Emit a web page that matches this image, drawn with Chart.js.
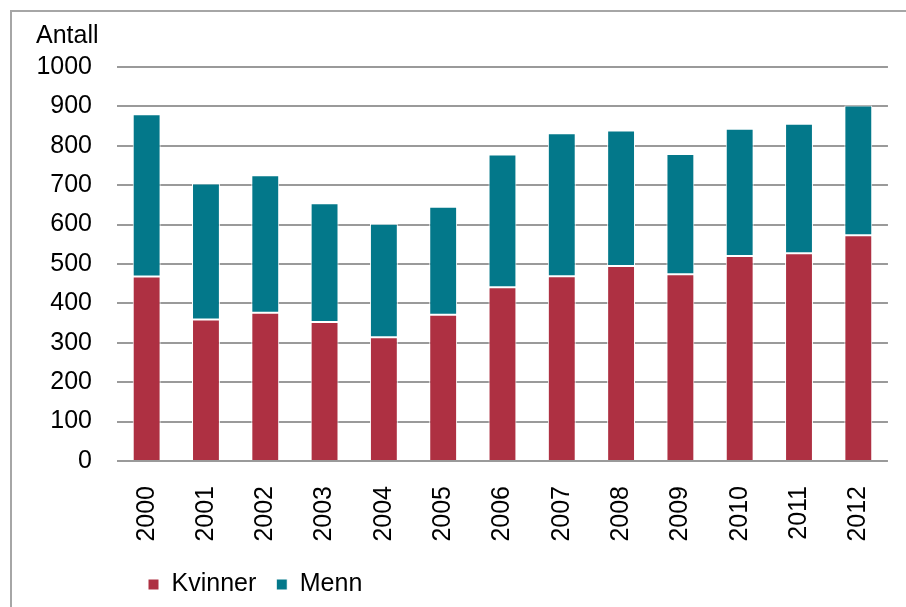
<!DOCTYPE html>
<html>
<head>
<meta charset="utf-8">
<script src="https://cdn.jsdelivr.net/npm/chart.js@4/dist/chart.umd.min.js"></script>
<style>
  html, body { margin: 0; padding: 0; background: #ffffff; }
  #wrap { position: relative; width: 906px; height: 607px; overflow: hidden; }
  #frame { position: absolute; left: 10px; top: 10px; width: 1000px; height: 1000px;
           border-left: 2px solid #a6a6a6; border-top: 2px solid #a6a6a6; box-sizing: border-box; }
  #c { position: absolute; left: 0; top: 0; }
</style>
</head>
<body>
<div id="wrap">
  <div id="frame"></div>
  <canvas id="c" width="906" height="607"></canvas>
</div>
<script>
const categories = ['2000','2001','2002','2003','2004','2005','2006','2007','2008','2009','2010','2011','2012'];
const kvinner = [468, 359, 376, 353, 314, 371, 441, 469, 495, 474, 520, 527, 573];
const menn    = [412, 345, 349, 301, 288, 274, 337, 363, 344, 305, 323, 329, 329];
const yTitle = 'Antall';
const seriesNames = ['Kvinner', 'Menn'];

const FONT = "'Liberation Sans', Arial, sans-serif";
const GRID = '#9a9a9a';

const legendShift = {
  id: 'legendShift',
  afterLayout(chart) {
    const L = chart.legend;
    if (!L) return;
    const d = 128 - L.left;
    L.left += d;
    L.right += d;
  }
};

new Chart(document.getElementById('c'), {
  type: 'bar',
  data: {
    labels: categories,
    datasets: [
      { label: seriesNames[0], data: kvinner, backgroundColor: '#ae3042',
        borderColor: '#ffffff', borderWidth: 1, borderSkipped: 'start' },
      { label: seriesNames[1], data: menn, backgroundColor: '#03788a',
        borderColor: '#ffffff', borderWidth: 1, borderSkipped: false }
    ]
  },
  options: {
    responsive: false,
    animation: false,
    events: [],
    categoryPercentage: 0.94,
    barPercentage: 0.5,
    layout: { padding: { left: 36, right: 18, top: 11, bottom: 0 } },
    plugins: {
      title: {
        display: true, text: yTitle, align: 'start', color: '#000000',
        font: { family: FONT, size: 25, weight: 'normal' },
        padding: { top: 10, bottom: 16 }
      },
      legend: {
        display: true, position: 'bottom', align: 'start',
        labels: {
          boxWidth: 11, boxHeight: 11, padding: 20, color: '#000000',
          font: { family: FONT, size: 25 }
        }
      },
      tooltip: { enabled: false }
    },
    scales: {
      x: {
        stacked: true,
        grid: { display: false },
        border: { display: false },
        ticks: {
          color: '#000000', font: { family: FONT, size: 25 },
          minRotation: 90, maxRotation: 90, padding: 17, autoSkip: false
        },
        afterFit(scale) { scale.height = 91; }
      },
      y: {
        stacked: true,
        min: 0, max: 1000,
        grid: { color: GRID, lineWidth: 2, drawTicks: false },
        border: { display: false },
        ticks: {
          stepSize: 100, color: '#000000', font: { family: FONT, size: 25 }, padding: 25,
          callback: (v) => String(v)
        },
        afterFit(scale) { scale.width = 81; }
      }
    }
  },
  plugins: [legendShift]
});
</script>
</body>
</html>
